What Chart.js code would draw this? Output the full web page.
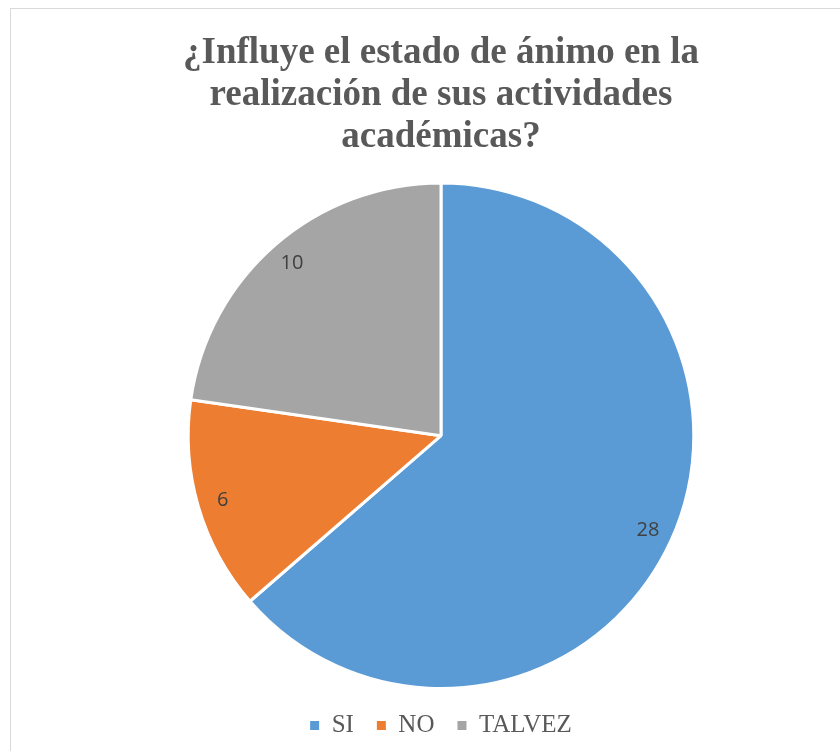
<!DOCTYPE html>
<html>
<head>
<meta charset="utf-8">
<script src="https://cdn.jsdelivr.net/npm/chart.js@4"></script>
<style>
  html, body { margin: 0; padding: 0; background: #fff; overflow: hidden; }
  #frame {
    position: absolute; left: 10px; top: 8px; width: 840px; height: 751px;
    border-left: 1px solid #d9d9d9; border-top: 1px solid #d9d9d9;
  }
  #wrap { position: absolute; left: 0; top: 0; width: 840px; height: 751px; }
</style>
</head>
<body>
<div id="frame"></div>
<div id="wrap"><canvas id="moodChart"></canvas></div>
<script>
// Chart data
const categories = ['SI', 'NO', 'TALVEZ'];
const answers = [28, 6, 10];
const sliceColors = ['#5B9BD5', '#ED7D31', '#A5A5A5'];
const titleLines = ['¿Influye el estado de ánimo en la', 'realización de sus actividades', 'académicas?'];

// Draws the value inside each slice, like Excel's data labels
const sliceLabels = {
  id: 'sliceLabels',
  afterDatasetsDraw(chart) {
    const { ctx } = chart;
    const meta = chart.getDatasetMeta(0);
    ctx.save();
    ctx.font = '20px "Open Sans", sans-serif';
    ctx.fillStyle = '#404040';
    ctx.textAlign = 'center';
    ctx.textBaseline = 'middle';
    meta.data.forEach((arc, i) => {
      const p = arc.getProps(['x', 'y', 'startAngle', 'endAngle', 'outerRadius'], true);
      const mid = (p.startAngle + p.endAngle) / 2;
      const r = p.outerRadius * 0.9;
      ctx.fillText(String(chart.data.datasets[0].data[i]), p.x + Math.cos(mid) * r, p.y + Math.sin(mid) * r);
    });
    ctx.restore();
  }
};

document.addEventListener('DOMContentLoaded', () => {
  initMoodChart();
});

function initMoodChart() {
  const ctx = document.getElementById('moodChart');
  if (!ctx) return;

  new Chart(ctx, {
    type: 'pie',
    data: {
      labels: categories,
      datasets: [{
        data: answers,
        backgroundColor: sliceColors,
        borderColor: '#ffffff',
        borderWidth: 3
      }]
    },
    options: {
      responsive: true,
      maintainAspectRatio: false,
      animation: false,
      layout: { padding: { left: 42, right: 0, top: 0, bottom: 3 } },
      plugins: {
        title: {
          display: true,
          text: titleLines,
          color: '#595959',
          font: { family: '"Liberation Serif", "Times New Roman", serif', size: 37, weight: 'bold', lineHeight: 1.13 },
          padding: { top: 33, bottom: 23 }
        },
        legend: {
          position: 'bottom',
          labels: {
            color: '#595959',
            font: { family: '"Liberation Serif", "Times New Roman", serif', size: 25, lineHeight: 1 },
            boxWidth: 9,
            boxHeight: 9,
            padding: 23,
            generateLabels: (chart) =>
              Chart.overrides.pie.plugins.legend.labels.generateLabels(chart)
                .map(l => ({ ...l, lineWidth: 0 }))
          }
        },
        tooltip: { enabled: false }
      }
    },
    plugins: [sliceLabels]
  });
}
</script>
</body>
</html>
